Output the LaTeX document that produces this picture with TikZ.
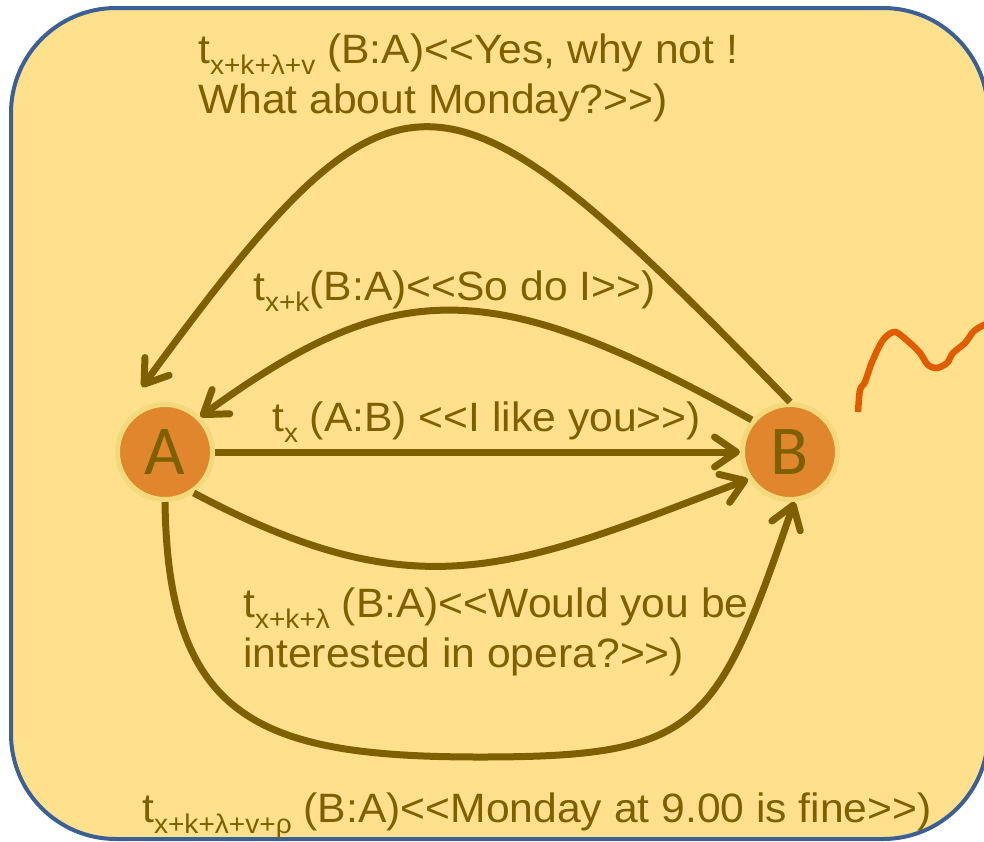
\documentclass[tikz,border=0pt]{standalone}
\usepackage{fontspec}
\setmainfont{Liberation Sans}[Ligatures=TeXOff, FakeStretch=1.04]
\newfontfamily\statefont{Carlito}
\usetikzlibrary{arrows.meta}

\definecolor{slidefill}{HTML}{FFE08C}
\definecolor{slideline}{HTML}{3B6096}
\definecolor{msgbrown}{HTML}{7F6000}
\definecolor{stateorange}{HTML}{E0862C}
\definecolor{statering}{HTML}{F2D97C}
\definecolor{scribble}{HTML}{E05C00}

\newcommand\tidx[1]{t\raisebox{-11pt}{\fontsize{27}{27}\selectfont #1}}

\tikzset{
  state/.style={circle, fill=stateorange, draw=statering, line width=5pt,
    minimum size=95pt, inner sep=0pt, text=msgbrown,
    font=\statefont\fontsize{70}{70}\selectfont},
  msg/.style={anchor=base west, inner sep=0pt, text=msgbrown, align=left,
    font=\fontsize{41}{50}\selectfont},
  flow/.style={draw=msgbrown, line width=7pt,
    -{Straight Barb[length=22pt,width=30pt,round]}},
}

\begin{document}
\begin{tikzpicture}[x=1pt,y=-1pt]
    \useasboundingbox (0,0) rectangle (984,841);
    \clip (0,0) rectangle (984,841);
    \draw[slideline, fill=slidefill, line width=4pt, rounded corners=105pt] (11,8) rectangle (988,839);

    \node[state] (A) at (165,452) {A};
    \node[state] (B) at (790,452) {B};
    \coordinate (A-in) at (142,387);
    \coordinate (low) at (480,757);

    \draw[flow] (A) -- (B);
    \draw[flow] (A.-55) .. controls +(224,119) and +(-237,91) .. (B.213);
    \draw[flow] (B.140) .. controls +(-260,-145) and +(195,-142) .. (A.45);
    \draw[flow] (B.north) .. controls +(-350,-360) and +(258,-352) .. (A-in);
    \draw[flow] (A.south) .. controls +(3,218) and +(-220,0) .. (low)
        .. controls +(220,0) and +(-78,227) .. (B.-85);

    \draw[scribble, line width=6.5pt] plot[smooth] coordinates {(858,412) (860,390) (865,382) (872,362)
        (883,340) (895,332) (910,343) (920,353) (928,365) (937,368) (947,363) (953,353)
        (965,343) (973,332) (980,327) (990,322)};

    % multi-line labels sit on the baseline of their last line
    \node[msg] (yes) at (198,113) {\tidx{x+k+λ+v} (B:A)<<Yes, why not !\\What about Monday?>>)};
    \node[msg] (sodoi) at (253,300) {\tidx{x+k}(B:A)<<So do I>>)};
    \node[msg] (like) at (272,431) {\tidx{x} (A:B) <<I like you>>)};
    \node[msg] (opera) at (243,667) {\tidx{x+k+λ} (B:A)<<Would you be\\interested in opera?>>)};
    \node[msg] (fine) at (142,822) {\tidx{x+k+λ+v+ρ} (B:A)<<Monday at 9.00 is fine>>)};
\end{tikzpicture}
\end{document}
